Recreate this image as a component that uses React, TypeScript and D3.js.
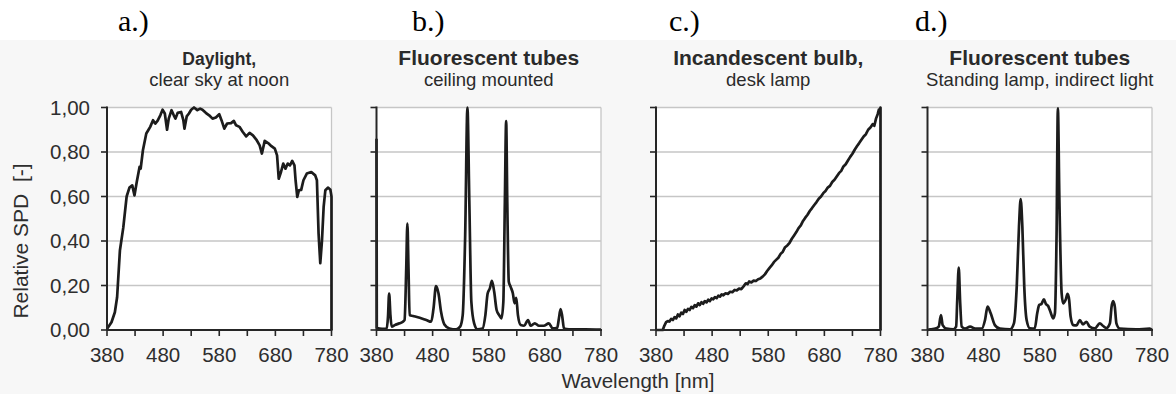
import React from "react";
import * as d3 from "d3";

const W = 1176, H = 394;

// labels
const panelTags = ["a.)", "b.)", "c.)", "d.)"];
const panelTitles = ["Daylight,", "Fluorescent tubes", "Incandescent bulb,", "Fluorescent tubes"];
const panelSubtitles = ["clear sky at noon", "ceiling mounted", "desk lamp", "Standing lamp, indirect light"];
const xTickLabels = [380, 480, 580, 680, 780];
const xTickMarks = [380, 430, 480, 530, 580, 630, 680, 730, 780];
const yTicks = [0, 0.2, 0.4, 0.6, 0.8, 1.0];

// spectra: [wavelength nm, relative SPD]
const daylight: [number, number][] = [
  [380, 0.005], [382, 0.012], [388, 0.035], [394, 0.08], [398, 0.147], [403, 0.357], [409, 0.46],
  [415, 0.6], [420, 0.64], [425, 0.65], [429, 0.605], [433, 0.665], [438, 0.733], [440, 0.725],
  [444, 0.808], [450, 0.883], [454, 0.9], [457, 0.913], [462, 0.943], [466, 0.928], [470, 0.94],
  [475, 0.965], [479, 0.99], [483, 0.973], [487, 0.9], [490, 0.95], [495, 0.988], [499, 0.965],
  [502, 0.95], [506, 0.976], [512, 0.98], [516, 0.943], [518, 0.905], [522, 0.96], [526, 0.973],
  [530, 0.99], [535, 1.0], [541, 0.988], [546, 0.995], [550, 0.99], [556, 0.976], [562, 0.965],
  [568, 0.95], [574, 0.955], [580, 0.97], [584, 0.943], [589, 0.905], [594, 0.928], [601, 0.93],
  [606, 0.94], [610, 0.92], [616, 0.913], [622, 0.89], [628, 0.87], [634, 0.886], [640, 0.875],
  [646, 0.856], [652, 0.83], [656, 0.793], [661, 0.85], [667, 0.84], [673, 0.826], [679, 0.815],
  [683, 0.785], [686, 0.68], [690, 0.71], [694, 0.748], [698, 0.725], [702, 0.748], [706, 0.74],
  [710, 0.76], [714, 0.74], [716, 0.673], [719, 0.598], [722, 0.628], [726, 0.63], [730, 0.673],
  [736, 0.703], [744, 0.71], [751, 0.695], [754, 0.673], [757, 0.432], [760, 0.3], [763, 0.4],
  [766, 0.553], [769, 0.628], [774, 0.64], [778, 0.63], [780, 0.6], [780, 0],
];

const fluoCeiling: [number, number][] = [
  [380, 0.86], [380.5, 0.01], [390, 0.005], [398, 0.005], [400.5, 0.06], [402.5, 0.164], [404.8, 0.067],
  [407, 0.015], [412.5, 0.022], [421, 0.03], [427, 0.037], [430, 0.045], [433, 0.277], [435, 0.478],
  [437, 0.277], [439, 0.067], [445, 0.063], [457, 0.055], [468.6, 0.045], [477.5, 0.037], [481.6, 0.097],
  [486, 0.197], [490.5, 0.164], [495, 0.082], [501, 0.025], [510, 0.007], [522, 0.003], [529, 0.015],
  [533.6, 0.067], [538, 0.426], [542, 1.0], [545.4, 0.576], [549, 0.127], [554, 0.03], [560, 0.003],
  [569, 0.007], [574, 0.067], [578, 0.164], [582, 0.187], [585.6, 0.221], [589.7, 0.172], [594, 0.09],
  [598.6, 0.067], [602.7, 0.052], [606, 0.127], [608.7, 0.576], [611, 0.939], [613, 0.576], [615.7, 0.217],
  [619, 0.194], [623, 0.164], [626, 0.12], [629, 0.145], [632, 0.067], [637, 0.022], [643, 0.019],
  [650, 0.045], [654.7, 0.019], [662, 0.03], [669.5, 0.019], [678, 0.019], [687, 0.03], [694, 0.007],
  [702, 0.01], [705, 0.052], [708, 0.094], [711, 0.06], [714, 0.007], [723, 0.003], [752, 0.003], [780, 0.002],
];

const incandescent: [number, number][] = [
  [380, 0], [392, 0], [395, 0.02], [398, 0.035], [401, 0.04], [404, 0.038], [407, 0.05], [410, 0.045],
  [413, 0.058], [416, 0.052], [419, 0.07], [422, 0.062], [425, 0.078], [428, 0.072], [431, 0.09],
  [434, 0.082], [437, 0.095], [440, 0.09], [443, 0.104], [446, 0.098], [449, 0.112], [452, 0.105],
  [455, 0.12], [458, 0.112], [461, 0.125], [464, 0.118], [467, 0.13], [470, 0.124], [473, 0.136],
  [476, 0.13], [479, 0.142], [482, 0.138], [485, 0.148], [488, 0.143], [491, 0.154], [494, 0.15],
  [497, 0.16], [500, 0.156], [504, 0.165], [508, 0.162], [512, 0.172], [516, 0.17], [520, 0.18],
  [524, 0.178], [528, 0.186], [532, 0.184], [536, 0.196], [540, 0.21], [543, 0.206], [546, 0.218],
  [550, 0.214], [554, 0.222], [558, 0.22], [562, 0.228], [566, 0.232], [570, 0.24], [574, 0.25],
  [578, 0.265], [582, 0.278], [586, 0.29], [590, 0.305], [594, 0.315], [598, 0.325], [602, 0.342],
  [606, 0.352], [610, 0.372], [614, 0.38], [618, 0.392], [622, 0.41], [626, 0.425], [630, 0.44],
  [634, 0.458], [638, 0.47], [642, 0.49], [646, 0.505], [650, 0.518], [654, 0.535], [658, 0.548],
  [662, 0.562], [666, 0.575], [670, 0.59], [674, 0.6], [678, 0.615], [682, 0.625], [686, 0.64],
  [690, 0.648], [694, 0.665], [698, 0.675], [702, 0.69], [706, 0.705], [710, 0.715], [714, 0.735],
  [718, 0.745], [722, 0.762], [726, 0.778], [730, 0.792], [734, 0.81], [738, 0.826], [742, 0.84],
  [746, 0.855], [750, 0.87], [754, 0.88], [758, 0.9], [762, 0.91], [766, 0.925], [769, 0.918],
  [772, 0.95], [775, 0.97], [777, 0.99], [779, 0.985], [780, 1.0], [780, 0],
];

const fluoStanding: [number, number][] = [
  [380, 0], [385, 0.003], [394, 0.006], [400, 0.015], [404, 0.067], [407, 0.022], [414, 0.006],
  [426, 0.003], [431, 0.015], [433, 0.135], [435.7, 0.28], [438, 0.135], [441, 0.015], [447, 0.006],
  [456, 0.015], [465, 0.006], [476.6, 0.006], [482.5, 0.045], [487, 0.105], [492.6, 0.075], [500, 0.022],
  [509, 0.006], [527, 0.003], [534, 0.03], [539, 0.195], [543, 0.464], [546, 0.588], [549, 0.464],
  [552.4, 0.195], [556.6, 0.045], [562.5, 0.007], [571, 0.006], [575.5, 0.075], [579, 0.112], [583, 0.117],
  [587.4, 0.138], [591, 0.117], [595, 0.108], [599, 0.082], [604, 0.052], [607, 0.075], [610, 0.434],
  [612.3, 0.996], [615, 0.584], [619, 0.165], [621.8, 0.12], [626, 0.135], [629.6, 0.162], [632.4, 0.135],
  [635, 0.06], [639.5, 0.022], [645.5, 0.021], [651.4, 0.045], [657, 0.025], [663, 0.037], [669, 0.015],
  [678, 0.007], [687, 0.03], [693, 0.018], [699, 0.009], [705, 0.03], [708, 0.105], [710.7, 0.13],
  [713.7, 0.105], [716.6, 0.03], [722.5, 0.006], [752, 0.003], [776, 0.006], [780, 0],
];

const spectra = [daylight, fluoCeiling, incandescent, fluoStanding];

// layout (pixels)
const plotLeft = [107, 376.5, 656, 927.5];
const plotWidth = 224.5;
const plotTop = 107.5;
const plotBottom = 330;
const tagX = [118, 412, 669, 915];
const titleSize = [17.5, 21, 21, 21];

const sans = "'Liberation Sans', Arial, Helvetica, sans-serif";
const serif = "'Liberation Serif', 'Times New Roman', serif";
const fmt = (v: number) => d3.format(".2f")(v).replace(".", ",");

function Panel({ i }: { i: number }) {
  const x0 = plotLeft[i];
  const x = d3.scaleLinear().domain([380, 780]).range([x0, x0 + plotWidth]);
  const y = d3.scaleLinear().domain([0, 1]).range([plotBottom, plotTop]);
  const line = d3.line<[number, number]>()
    .x(d => x(d[0]))
    .y(d => y(d[1]))
    .curve(i === 1 || i === 3 ? d3.curveMonotoneX : d3.curveLinear);
  const cx = x0 + plotWidth / 2;

  return (
    <g>
      <rect x={x0} y={plotTop} width={plotWidth} height={plotBottom - plotTop} fill="#fff" />
      {yTicks.filter(t => t > 0).map(t => (
        <line key={t} x1={x0} x2={x(780)} y1={y(t)} y2={y(t)} stroke="#c6c6c6" strokeWidth={1.3} />
      ))}
      <line x1={x(780)} x2={x(780)} y1={plotTop} y2={plotBottom} stroke="#c6c6c6" strokeWidth={1.3} />

      <text x={tagX[i]} y={31} fontFamily={serif} fontSize={30} fill="#000">{panelTags[i]}</text>
      <text x={cx} y={65} textAnchor="middle" fontFamily={sans} fontWeight="bold" fontSize={titleSize[i]} fill="#2a2a2a">
        {panelTitles[i]}
      </text>
      <text x={cx} y={86} textAnchor="middle" fontFamily={sans} fontSize={18.5} fill="#2a2a2a">
        {panelSubtitles[i]}
      </text>

      <path d={line(spectra[i]) ?? ""} fill="none" stroke="#1c1c1c" strokeWidth={2.7} strokeLinejoin="round" />

      {/* axes */}
      <line x1={x0} x2={x0} y1={plotTop - 1} y2={plotBottom} stroke="#262626" strokeWidth={2} />
      <line x1={x0} x2={x(780) + 1} y1={plotBottom} y2={plotBottom} stroke="#262626" strokeWidth={2} />
      {yTicks.map(t => (
        <line key={t} x1={x0 - 6} x2={x0} y1={y(t)} y2={y(t)} stroke="#262626" strokeWidth={1.6} />
      ))}
      {xTickMarks.map(t => (
        <line key={t} x1={x(t)} x2={x(t)} y1={plotBottom} y2={plotBottom + 6} stroke="#262626" strokeWidth={1.6} />
      ))}
      {xTickLabels.map(t => (
        <text key={t} x={x(t)} y={361.5} textAnchor="middle" fontFamily={sans} fontSize={20.5} fill="#2e2e2e">
          {t}
        </text>
      ))}
      {i === 0 && yTicks.map(t => (
        <text key={t} x={90} y={y(t)} dy="0.36em" textAnchor="end" fontFamily={sans} fontSize={20.5} fill="#2e2e2e">
          {fmt(t)}
        </text>
      ))}
    </g>
  );
}

export default function App() {
  return (
    <svg width={W} height={H} style={{ position: "absolute", left: 0, top: 0, background: "#fff" }}>
      <rect x={0} y={40} width={W} height={H - 40} fill="#f7f7f7" />
      {spectra.map((_, i) => <Panel key={i} i={i} />)}
      <text transform={`translate(28, 241) rotate(-90)`} textAnchor="middle" fontFamily={sans} fontSize={21}
        fill="#2e2e2e" style={{ whiteSpace: "pre" }}>
        {"Relative SPD  [-]"}
      </text>
      <text x={638} y={388} textAnchor="middle" fontFamily={sans} fontSize={20.5} fill="#2e2e2e">
        Wavelength [nm]
      </text>
    </svg>
  );
}
